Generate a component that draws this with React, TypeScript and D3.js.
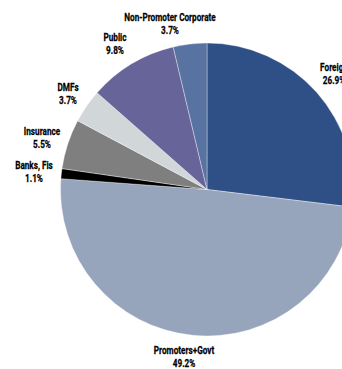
import React from "react";
import * as d3 from "d3";

const categories = ["Foreign", "Promoters+Govt", "Banks, Fis", "Insurance", "DMFs", "Public", "Non-Promoter Corporate"];
const values = [26.9, 49.2, 1.1, 5.5, 3.7, 9.8, 3.7];
const colors = ["#2F4F87", "#97A5BC", "#000000", "#7F7F7F", "#D1D6D9", "#67649A", "#5872A1"];
const labelPos: [number, number][] = [
  [334, 67],
  [184, 350],
  [34, 165],
  [42, 131],
  [68, 87],
  [115, 37],
  [170, 17],
];

export default function App() {
  const W = 342, H = 369;
  const cx = 207, cy = 189.5, r = 146.5;
  const pie = d3.pie<number>().sort(null).value((d) => d)(values);
  const arc = d3.arc<d3.PieArcDatum<number>>().innerRadius(0).outerRadius(r);
  const font = "Roboto, 'Liberation Sans', Arial, sans-serif";
  return (
    <svg width={W} height={H} style={{ position: "absolute", left: 0, top: 0, background: "#fff" }}>
      <g transform={`translate(${cx},${cy})`}>
        {pie.map((p, i) => (
          <path key={i} d={arc(p) || ""} fill={colors[i]} stroke="#ffffff" strokeOpacity={0.6} strokeWidth={0.6} />
        ))}
      </g>
      {categories.map((c, i) => (
        <g key={c} transform={`translate(${labelPos[i][0]},${labelPos[i][1]}) scale(0.78,1)`}>
          <text
            textAnchor="middle"
            fontFamily={font}
            fontWeight="bold"
            fontSize={10.5}
            stroke="#000"
            strokeWidth={0.25}
            fill="#000"
          >
            <tspan x={0} dy="0.35em">{c}</tspan>
            <tspan x={0} dy="1.3em">{values[i].toFixed(1)}%</tspan>
          </text>
        </g>
      ))}
    </svg>
  );
}
